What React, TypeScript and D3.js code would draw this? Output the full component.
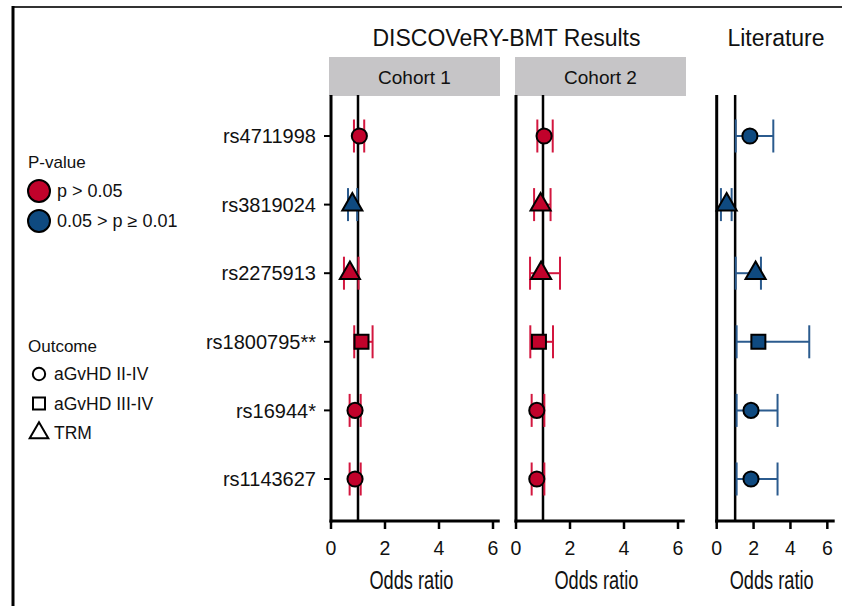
import React from "react";
import * as d3 from "d3";

// forest plot: DISCOVeRY-BMT cohorts vs literature

const snps = ["rs4711998", "rs3819024", "rs2275913", "rs1800795**", "rs16944*", "rs1143627"];
const outcomes = ["aGvHD II-IV", "TRM", "TRM", "aGvHD III-IV", "aGvHD II-IV", "aGvHD II-IV"];

const cohort1OR = [1.05, 0.79, 0.7, 1.13, 0.89, 0.89];
const cohort1Lo = [0.85, 0.63, 0.48, 0.86, 0.69, 0.69];
const cohort1Hi = [1.23, 0.97, 1.02, 1.54, 1.1, 1.1];
const cohort1P = ["p > 0.05", "0.05 > p ≥ 0.01", "p > 0.05", "p > 0.05", "p > 0.05", "p > 0.05"];

const cohort2OR = [1.04, 0.91, 0.93, 0.85, 0.77, 0.77];
const cohort2Lo = [0.79, 0.67, 0.52, 0.53, 0.58, 0.58];
const cohort2Hi = [1.36, 1.28, 1.63, 1.37, 1.05, 1.05];
const cohort2P = ["p > 0.05", "p > 0.05", "p > 0.05", "p > 0.05", "p > 0.05", "p > 0.05"];

const litOR = [1.8, 0.54, 2.11, 2.26, 1.86, 1.86];
const litLo = [1.03, 0.23, 1.03, 1.08, 1.08, 1.08];
const litHi = [3.07, 0.81, 2.4, 5.02, 3.3, 3.3];
const litP = ["0.05 > p ≥ 0.01", "0.05 > p ≥ 0.01", "0.05 > p ≥ 0.01", "0.05 > p ≥ 0.01", "0.05 > p ≥ 0.01", "0.05 > p ≥ 0.01"];

const xTicks = [0, 2, 4, 6];
const pLevels = ["p > 0.05", "0.05 > p ≥ 0.01"];
const outcomeLevels = ["aGvHD II-IV", "aGvHD III-IV", "TRM"];

const fill = d3.scaleOrdinal<string, string>().domain(pLevels).range(["#c1022b", "#0f4a80"]);
const barColor = d3.scaleOrdinal<string, string>().domain(pLevels).range(["#d3173f", "#2b5b8e"]);
const shape = d3
  .scaleOrdinal<string, d3.SymbolType>()
  .domain(outcomeLevels)
  .range([d3.symbolCircle, d3.symbolSquare, d3.symbolTriangle]);
const shapeSize = d3.scaleOrdinal<string, number>().domain(outcomeLevels).range([180, 196, 175]);

const FONT = "'Liberation Sans', Arial, Helvetica, sans-serif";

const yTop = 95;
const yBottom = 521;
const y = d3.scalePoint<string>().domain(snps).range([136, 479]);

type PanelProps = {
  x: d3.ScaleLinear<number, number>;
  or: number[];
  lo: number[];
  hi: number[];
  p: string[];
  yTicks?: boolean;
};

function Panel({ x, or, lo, hi, p, yTicks }: PanelProps) {
  const [x0, x1] = x.range();
  const capH = 16.5;
  return (
    <g>
      {/* axes */}
      <line x1={x0} x2={x0} y1={yTop} y2={yBottom + 1.5} stroke="#000" strokeWidth={3} />
      <line x1={x0 - 1.5} x2={x1} y1={yBottom} y2={yBottom} stroke="#000" strokeWidth={3} />
      {xTicks.map((t) => (
        <g key={t}>
          <line x1={x(t)} x2={x(t)} y1={yBottom} y2={yBottom + 8} stroke="#000" strokeWidth={2.5} />
          <text x={x(t)} y={555} textAnchor="middle" fontSize={19.5} fontFamily={FONT} fill="#111">
            {t}
          </text>
        </g>
      ))}
      <text
        x={(x0 + x1) / 2 - 4}
        y={589}
        textAnchor="middle"
        fontSize={25}
        fontFamily={FONT}
        fill="#111"
        textLength={84}
        lengthAdjust="spacingAndGlyphs"
      >
        Odds ratio
      </text>
      {yTicks &&
        snps.map((s) => (
          <g key={s}>
            <line x1={x0 - 7} x2={x0} y1={y(s)} y2={y(s)} stroke="#000" strokeWidth={2} />
            <text x={316} y={y(s)!} dy="0.36em" textAnchor="end" fontSize={20} fontFamily={FONT} fill="#111">
              {s}
            </text>
          </g>
        ))}
      {/* reference line at OR = 1 */}
      <line x1={x(1)} x2={x(1)} y1={yTop} y2={yBottom} stroke="#000" strokeWidth={2.5} />
      {snps.map((s, i) => {
        const cy = y(s)!;
        const c = barColor(p[i]);
        return (
          <g key={s}>
            <line x1={x(lo[i])} x2={x(hi[i])} y1={cy} y2={cy} stroke={c} strokeWidth={2} />
            <line x1={x(lo[i])} x2={x(lo[i])} y1={cy - capH} y2={cy + capH} stroke={c} strokeWidth={2} />
            <line x1={x(hi[i])} x2={x(hi[i])} y1={cy - capH} y2={cy + capH} stroke={c} strokeWidth={2} />
            <path
              transform={`translate(${x(or[i])},${cy})`}
              d={d3.symbol().type(shape(outcomes[i])).size(shapeSize(outcomes[i]))()!}
              fill={fill(p[i])}
              stroke="#000"
              strokeWidth={2}
            />
          </g>
        );
      })}
    </g>
  );
}

export default function App() {
  const x1 = d3.scaleLinear().domain([0, 6.25]).range([331, 499.75]);
  const x2 = d3.scaleLinear().domain([0, 6.25]).range([516, 684.75]);
  const x3 = d3.scaleLinear().domain([0, 6.4]).range([716.7, 834.7]);

  return (
    <svg
      width={842}
      height={606}
      style={{ position: "absolute", left: 0, top: 0, background: "#fff" }}
    >
      {/* frame */}
      <line x1={12} x2={842} y1={7} y2={7} stroke="#333" strokeWidth={2} />
      <line x1={13} x2={13} y1={6} y2={606} stroke="#000" strokeWidth={3} />

      {/* titles */}
      <text x={506.5} y={46} textAnchor="middle" fontSize={23} fontFamily={FONT} fill="#111">
        DISCOVeRY-BMT Results
      </text>
      <text x={776} y={46} textAnchor="middle" fontSize={23} fontFamily={FONT} fill="#111">
        Literature
      </text>

      {/* strips */}
      <rect x={329} y={57} width={171} height={39} fill="#c6c5c7" />
      <text x={414.5} y={83.5} textAnchor="middle" fontSize={19} fontFamily={FONT} fill="#111">
        Cohort 1
      </text>
      <rect x={515} y={57} width={171} height={39} fill="#c6c5c7" />
      <text x={600.5} y={83.5} textAnchor="middle" fontSize={19} fontFamily={FONT} fill="#111">
        Cohort 2
      </text>

      <Panel x={x1} or={cohort1OR} lo={cohort1Lo} hi={cohort1Hi} p={cohort1P} yTicks />
      <Panel x={x2} or={cohort2OR} lo={cohort2Lo} hi={cohort2Hi} p={cohort2P} />
      <Panel x={x3} or={litOR} lo={litLo} hi={litHi} p={litP} />

      {/* legend: P-value */}
      <text x={28} y={168} fontSize={17} fontFamily={FONT} fill="#111">
        P-value
      </text>
      {pLevels.map((lv, i) => (
        <g key={lv}>
          <circle cx={39} cy={191 + i * 30} r={11} fill={fill(lv)} stroke="#000" strokeWidth={2} />
          <text x={57} y={197 + i * 30} fontSize={18} fontFamily={FONT} fill="#111">
            {lv}
          </text>
        </g>
      ))}

      {/* legend: Outcome */}
      <text x={28} y={352} fontSize={17} fontFamily={FONT} fill="#111">
        Outcome
      </text>
      {outcomeLevels.map((lv, i) => (
        <g key={lv}>
          <path
            transform={`translate(39,${374 + i * 29.5})`}
            d={d3.symbol().type(shape(lv)).size(lv === "TRM" ? 150 : lv === "aGvHD III-IV" ? 144 : 120)()!}
            fill="none"
            stroke="#000"
            strokeWidth={2}
          />
          <text x={54} y={380 + i * 29.5} fontSize={17.5} fontFamily={FONT} fill="#111">
            {lv}
          </text>
        </g>
      ))}
    </svg>
  );
}
